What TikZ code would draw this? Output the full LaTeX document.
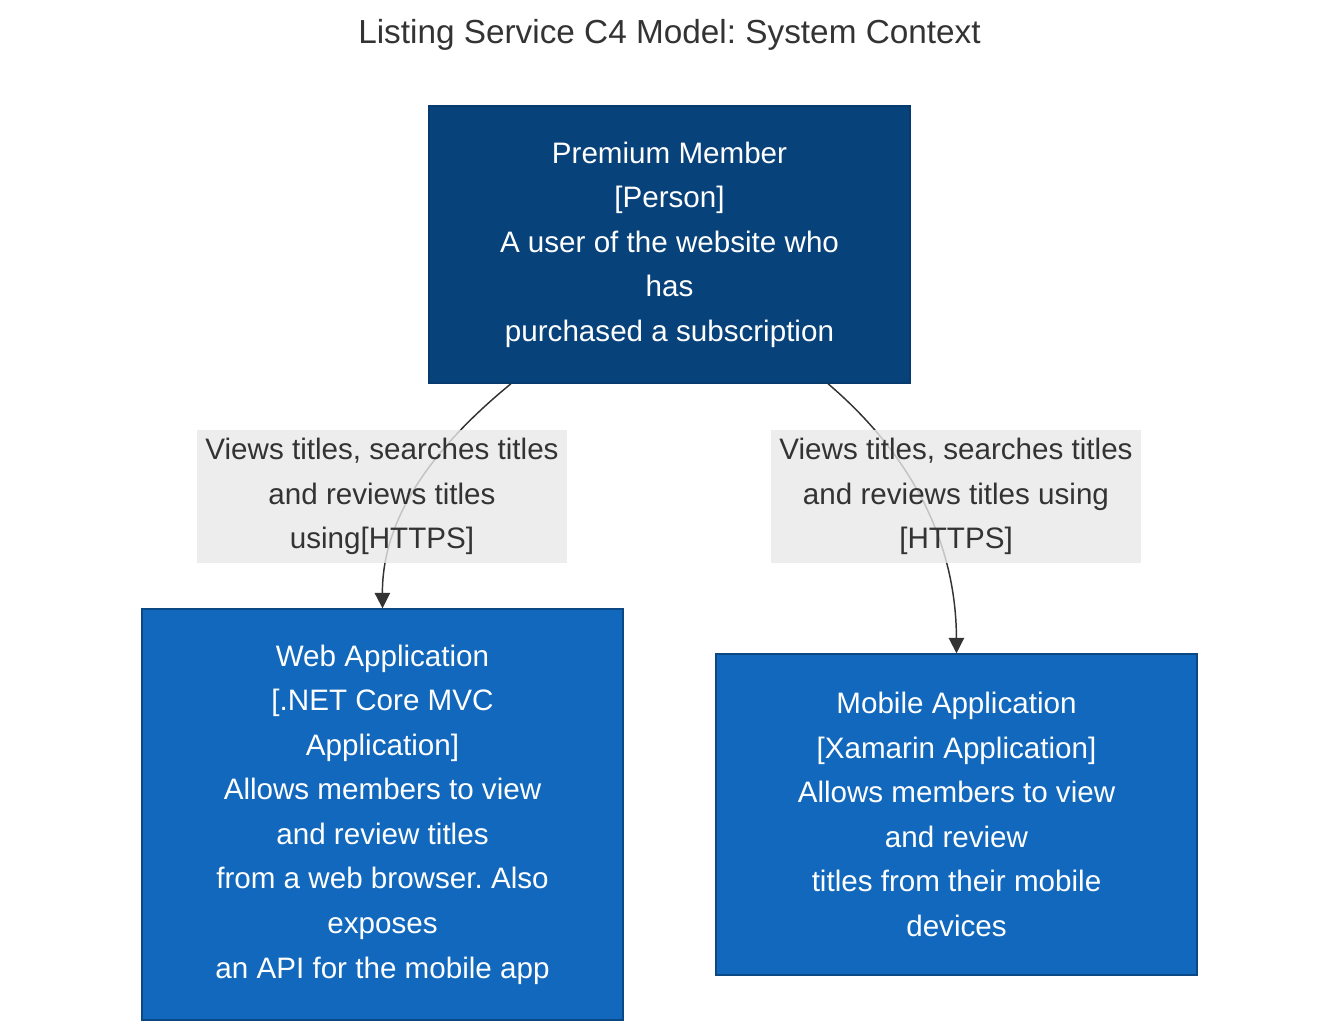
\documentclass[tikz,border=0pt]{standalone}
\usepackage{fontspec}
\setmainfont{Liberation Sans}
\frenchspacing
\usetikzlibrary{arrows.meta}
\definecolor{personfill}{HTML}{08427B}
\definecolor{personline}{HTML}{073B6F}
\definecolor{sysfill}{HTML}{1168BD}
\definecolor{sysline}{HTML}{0B4884}
\definecolor{txtgray}{HTML}{333333}
\definecolor{lblfill}{HTML}{E8E8E8}
\tikzset{
  bodyfont/.style={font=\fontsize{22.2pt}{33.4pt}\selectfont},
  personbox/.style={draw=personline, line width=1.1pt, fill=personfill, text=white, align=center,
     minimum width=360.75pt, minimum height=207.75pt, inner sep=0pt, bodyfont},
  sysbox/.style={draw=sysline, line width=1.1pt, fill=sysfill, text=white, align=center,
     minimum width=360.75pt, inner sep=0pt, bodyfont},
  edgelabel/.style={fill=lblfill, fill opacity=0.8, text opacity=1, text=txtgray, align=center,
     minimum width=277.5pt, minimum height=99.75pt, inner sep=0pt, bodyfont},
  relation/.style={draw=txtgray, line width=1.1pt, -{Triangle[length=11.5pt,width=11.5pt]}},
}
\begin{document}
\begin{tikzpicture}[x=0.75pt,y=-0.75pt]
\useasboundingbox (0,0) rectangle (1339,1035);
\node[text=txtgray, font=\fontsize{25pt}{30pt}\selectfont] (title) at (669.5,35) {Listing Service C4 Model: System Context};
\node[personbox] (pm) at (669.5,244.5) {Premium Member\\{}[Person]\\A user of the website who\\has\\purchased a subscription};
\node[sysbox, minimum height=308.25pt] (web) at (382.5,814.5) {Web Application\\{}[.NET Core MVC\\Application]\\Allows members to view\\and review titles\\from a web browser. Also\\exposes\\an API for the mobile app};
\node[sysbox, minimum height=240.75pt] (mob) at (956.5,814.5) {Mobile Application\\{}[Xamarin Application]\\Allows members to view\\and review\\titles from their mobile\\devices};
\draw[relation] ([xshift=-118.9pt]pm.south) .. controls (430,450) and (382,520) .. (web.north);
\draw[relation] ([xshift=118.9pt]pm.south) .. controls (900,445) and (956,530) .. (mob.north);
\node[edgelabel] (l1) at (382,496.5) {Views titles, searches titles\\and reviews titles\\using[HTTPS]};
\node[edgelabel] (l2) at (956,496.5) {Views titles, searches titles\\and reviews titles using\\{}[HTTPS]};
\end{tikzpicture}
\end{document}
